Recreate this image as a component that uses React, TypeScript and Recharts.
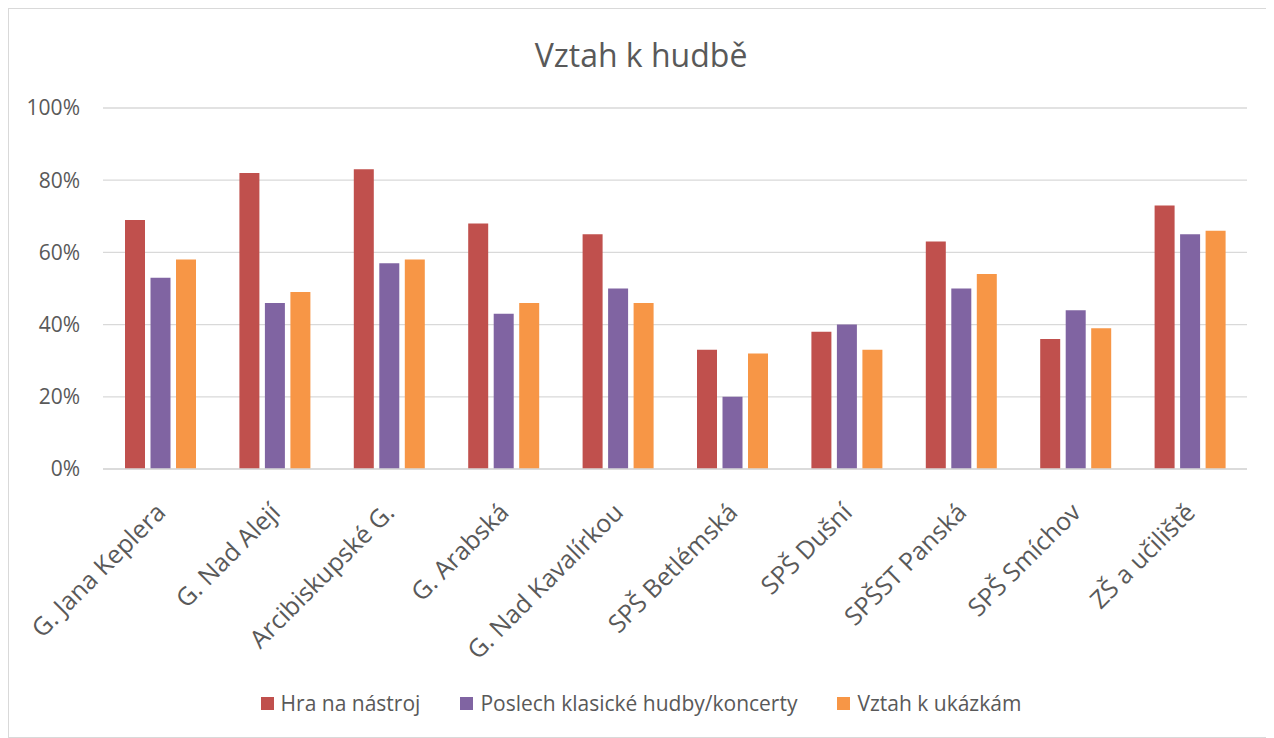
import React from 'react';
import { BarChart, Bar, XAxis, YAxis, CartesianGrid, Legend } from 'recharts';

const schools = [
  'G. Jana Keplera',
  'G. Nad Alejí',
  'Arcibiskupské G.',
  'G. Arabská',
  'G. Nad Kavalírkou',
  'SPŠ Betlémská',
  'SPŠ Dušní',
  'SPŠST Panská',
  'SPŠ Smíchov',
  'ZŠ a učiliště',
];
const hraNaNastroj = [69, 82, 83, 68, 65, 33, 38, 63, 36, 73];
const poslechKlasiky = [53, 46, 57, 43, 50, 20, 40, 50, 44, 65];
const vztahKUkazkam = [58, 49, 58, 46, 46, 32, 33, 54, 39, 66];
const yTicks = [0, 20, 40, 60, 80, 100];

const series = [
  { key: 'hra', name: 'Hra na nástroj', color: '#C0504D' },
  { key: 'poslech', name: 'Poslech klasické hudby/koncerty', color: '#8064A2' },
  { key: 'vztah', name: 'Vztah k ukázkám', color: '#F79646' },
];

const data = schools.map((name, i) => ({
  name,
  hra: hraNaNastroj[i],
  poslech: poslechKlasiky[i],
  vztah: vztahKUkazkam[i],
}));

const textColor = '#595959';
const font = "'Open Sans', 'Noto Sans', sans-serif";

// rotated school names, anchored at their end just right of the category centre
const SchoolTick = (props: any) => {
  const { x, y, payload } = props;
  const px = x + 7;
  const py = y + 37;
  return (
    <text
      x={px}
      y={py}
      textAnchor='end'
      fill={textColor}
      fontSize={25}
      fontFamily={font}
      transform={`rotate(-45, ${px}, ${py})`}
    >
      {payload.value}
    </text>
  );
};

const LegendBox = () => (
  <div
    style={{
      height: 30,
      display: 'flex',
      justifyContent: 'center',
      alignItems: 'center',
      gap: 40,
      fontFamily: font,
      fontSize: 21,
      color: textColor,
    }}
  >
    {series.map((s) => (
      <div key={s.key} style={{ display: 'flex', alignItems: 'center' }}>
        <span style={{ width: 13, height: 13, background: s.color, marginRight: 7 }} />
        <span>{s.name}</span>
      </div>
    ))}
  </div>
);

const App: React.FC = () => {
  return (
    <div
      style={{
        position: 'relative',
        width: 1266,
        height: 730,
        border: '1px solid #d9d9d9',
        boxSizing: 'border-box',
        background: '#fff',
      }}
    >
      <div
        style={{
          position: 'absolute',
          top: 26,
          left: 0,
          width: 1264,
          height: 40,
          lineHeight: '40px',
          textAlign: 'center',
          fontFamily: font,
          fontSize: 32,
          color: textColor,
        }}
      >
        Vztah k hudbě
      </div>
      <BarChart
        width={1264}
        height={728}
        data={data}
        margin={{ top: 99, right: 26, bottom: 19, left: 0 }}
        barSize={20}
        barGap={5.5}
      >
        <CartesianGrid vertical={false} stroke='#d9d9d9' strokeWidth={1.3} />
        <XAxis
          dataKey='name'
          height={219}
          interval={0}
          tickLine={false}
          axisLine={{ stroke: '#d9d9d9', strokeWidth: 1.3 }}
          tick={<SchoolTick />}
        />
        <YAxis
          width={94}
          domain={[0, 100]}
          ticks={yTicks}
          tickFormatter={(v: number) => `${v}%`}
          axisLine={false}
          tickLine={false}
          tickMargin={17}
          tick={{ fill: textColor, fontSize: 21, fontFamily: font }}
        />
        <Legend
          verticalAlign='bottom'
          content={<LegendBox />}
          wrapperStyle={{ left: 0, width: 1264, bottom: 19 }}
        />
        {series.map((s) => (
          <Bar key={s.key} dataKey={s.key} name={s.name} fill={s.color} isAnimationActive={false} />
        ))}
      </BarChart>
    </div>
  );
};

export default App;
